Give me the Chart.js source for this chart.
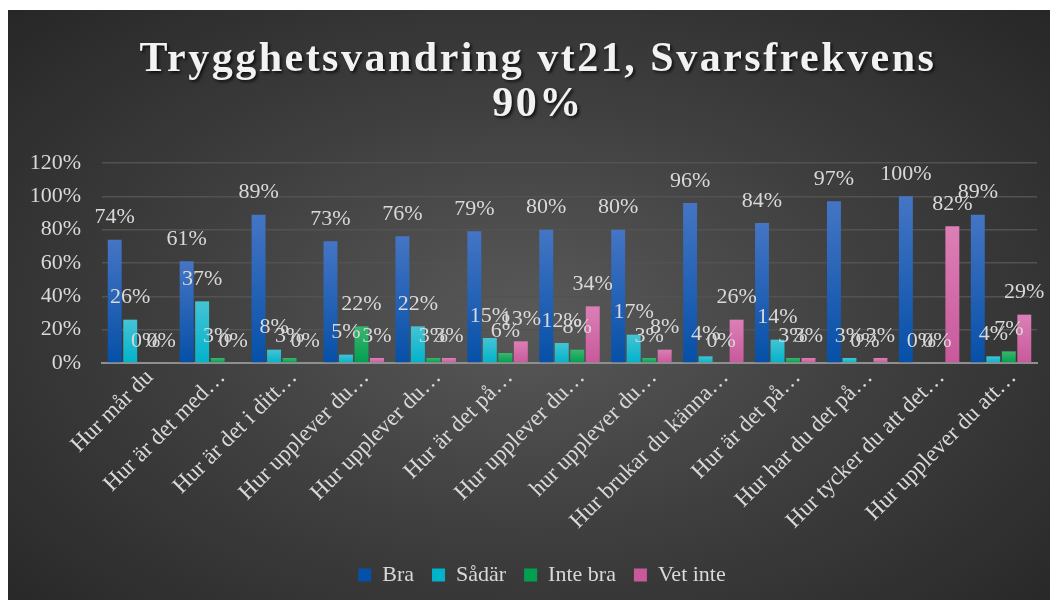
<!DOCTYPE html>
<html>
<head>
<meta charset="utf-8">
<script src="https://cdn.jsdelivr.net/npm/chart.js@4.4.0/dist/chart.umd.min.js"></script>
<style>
  html, body { margin: 0; padding: 0; background: #fff; }
  #wrap {
    position: absolute; left: 8px; top: 10px; width: 1042px; height: 590px;
    background: radial-gradient(ellipse 72% 78% at 50% 52%, #595959 0%, #3d3d3d 50%, #252525 100%);
  }
  canvas { display: block; }
</style>
</head>
<body>
<div id="wrap"><canvas id="chart" width="1042" height="590"></canvas></div>
<script>
// Chart data (percent per answer)
const categories = [
  'Hur mår du', 'Hur är det med…', 'Hur är det i ditt…', 'Hur upplever du…',
  'Hur upplever du…', 'Hur är det på…', 'Hur upplever du…', 'hur upplever du…',
  'Hur brukar du känna…', 'Hur är det på…', 'Hur har du det på…',
  'Hur tycker du att det…', 'Hur upplever du att…'
];
const bra      = [74, 61, 89, 73, 76, 79, 80, 80, 96, 84, 97, 100, 89];
const sadar    = [26, 37, 8, 5, 22, 15, 12, 17, 4, 14, 3, 0, 4];
const inteBra  = [0, 3, 3, 22, 3, 6, 8, 3, 0, 3, 0, 0, 7];
const vetInte  = [0, 0, 0, 3, 3, 13, 34, 8, 26, 3, 3, 82, 29];
const yTicks   = [0, 20, 40, 60, 80, 100, 120];
const titleLines = ['Trygghetsvandring vt21, Svarsfrekvens', '90%'];

const TEXT = '#d9d9d9';
const SERIF = '"Liberation Serif", "Times New Roman", serif';

// vertical gradient per bar, lighter at the top
function barFill(top, bottom, mid) {
  return ctx => {
    if (ctx.type !== 'data') return mid;
    const chart = ctx.chart;
    const ys = chart.scales.y;
    if (!chart.chartArea || !ys) return mid;
    const y0 = ys.getPixelForValue(0);
    const y1 = ys.getPixelForValue(ctx.raw);
    if (y0 - y1 < 1) return bottom;
    const g = chart.ctx.createLinearGradient(0, y1, 0, y0);
    g.addColorStop(0, top);
    g.addColorStop(1, bottom);
    return g;
  };
}

// value labels above bars
const valueLabels = {
  id: 'valueLabels',
  afterDatasetsDraw(chart) {
    const ctx = chart.ctx;
    ctx.save();
    ctx.font = '22px ' + SERIF;
    ctx.fillStyle = TEXT;
    ctx.textAlign = 'center';
    ctx.textBaseline = 'middle';
    chart.data.datasets.forEach((ds, i) => {
      chart.getDatasetMeta(i).data.forEach((bar, j) => {
        ctx.fillText(ds.data[j] + '%', bar.x, bar.y - 22);
      });
    });
    ctx.restore();
  }
};

// spaced bold title with a soft shadow
const spacedTitle = {
  id: 'spacedTitle',
  afterDraw(chart) {
    const ctx = chart.ctx;
    ctx.save();
    ctx.font = 'bold 42px ' + SERIF;
    ctx.letterSpacing = '2.5px';
    ctx.fillStyle = '#f2f2f2';
    ctx.textAlign = 'center';
    ctx.textBaseline = 'middle';
    ctx.shadowColor = 'rgba(0,0,0,0.7)';
    ctx.shadowOffsetX = 2;
    ctx.shadowOffsetY = 2;
    ctx.shadowBlur = 3;
    titleLines.forEach((t, i) => ctx.fillText(t, 530, 50 + i * 45));
    ctx.restore();
  }
};

// nudge the legend a little to the right, like the original
const legendShift = {
  id: 'legendShift',
  afterLayout(chart) {
    if (chart.legend) chart.legend.left += 39;
  }
};

new Chart(document.getElementById('chart'), {
  type: 'bar',
  data: {
    labels: categories,
    datasets: [
      { label: 'Bra', data: bra, backgroundColor: barFill('#4575c4', '#0550a8', '#1f5fb5') },
      { label: 'Sådär', data: sadar, backgroundColor: barFill('#45c3d4', '#00b3cb', '#1cbbd0') },
      { label: 'Inte bra', data: inteBra, backgroundColor: barFill('#3cb46e', '#00a050', '#18a85c') },
      { label: 'Vet inte', data: vetInte, backgroundColor: barFill('#dc7fb6', '#c8599b', '#d26aa8') }
    ]
  },
  options: {
    responsive: false,
    animation: false,
    categoryPercentage: 0.862,
    barPercentage: 0.9,
    layout: { padding: { top: 153, right: 13, bottom: 4, left: 0 } },
    plugins: {
      title: { display: false },
      tooltip: { enabled: false },
      legend: {
        position: 'bottom',
        labels: {
          color: TEXT,
          font: { family: SERIF, size: 22 },
          boxWidth: 13,
          boxHeight: 13,
          padding: 18
        }
      }
    },
    scales: {
      x: {
        grid: { display: false },
        border: { display: true, color: '#8f8f8f', width: 2 },
        ticks: {
          color: TEXT,
          font: { family: SERIF, size: 23 },
          maxRotation: 45,
          minRotation: 45,
          autoSkip: false,
          labelOffset: 12,
          padding: -7
        },
        afterFit(scale) { scale.height = 183; }
      },
      y: {
        min: 0,
        max: 120,
        afterBuildTicks(scale) { scale.ticks = yTicks.map(v => ({ value: v })); },
        grid: { color: '#525252', lineWidth: 1.5, drawTicks: false },
        border: { display: false },
        ticks: {
          color: TEXT,
          font: { family: SERIF, size: 22 },
          padding: 21,
          callback: v => v + '%'
        },
        afterFit(scale) { scale.width = 94; }
      }
    }
  },
  plugins: [valueLabels, spacedTitle, legendShift]
});
</script>
</body>
</html>
